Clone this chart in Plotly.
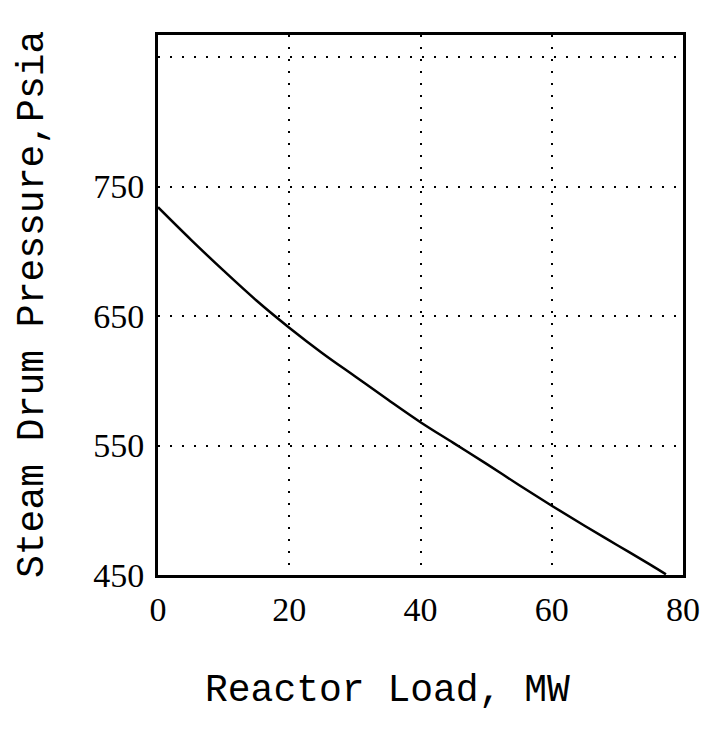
import plotly.graph_objects as go

# Data
load_mw = [0, 5, 10, 15, 20, 25, 30, 35, 40, 45, 50, 55, 60, 65, 70, 75, 77.4]
pressure_psia = [734, 709, 685, 662, 641, 621.5, 603.5, 585.5, 568, 552, 536, 519.5, 503.5, 488, 473, 458, 450.5]

x_tickvals = [0, 20, 40, 60, 80]
x_ticktext = ["0", "20", "40", "60", "80"]
y_tickvals = [450, 550, 650, 750, 850]
y_ticktext = ["450", "550", "650", "750", ""]

x_title = "Reactor Load, MW"
y_title = "Steam Drum Pressure,Psia"

fig = go.Figure()
fig.add_trace(go.Scatter(
    x=load_mw, y=pressure_psia, mode="lines",
    line=dict(color="black", width=2.5, shape="spline", smoothing=1.0),
    showlegend=False, hoverinfo="skip",
))

grid_dash = "2px,10px"
fig.update_xaxes(
    range=[0, 80], tickvals=x_tickvals, ticktext=x_ticktext,
    showgrid=True, gridcolor="black", gridwidth=2, griddash=grid_dash,
    showline=True, linecolor="black", linewidth=3, mirror=True,
    ticks="", zeroline=False, ticklabelstandoff=2,
    tickfont=dict(family="Liberation Serif", size=34, color="black"),
)
fig.update_yaxes(
    range=[450, 867], tickvals=y_tickvals, ticktext=y_ticktext,
    showgrid=True, gridcolor="black", gridwidth=2, griddash=grid_dash,
    showline=True, linecolor="black", linewidth=3, mirror=True,
    ticks="", zeroline=False, ticklabelstandoff=4,
    tickfont=dict(family="Liberation Serif", size=34, color="black"),
)

fig.update_layout(
    width=708, height=740,
    margin=dict(l=158, r=25, t=35, b=165, autoexpand=False),
    paper_bgcolor="white", plot_bgcolor="white",
    annotations=[
        dict(text=x_title, xref="paper", yref="paper", x=0.438, y=-0.213,
             showarrow=False, xanchor="center", yanchor="middle",
             font=dict(family="Liberation Mono", size=38, color="black")),
        dict(text=y_title, xref="paper", yref="paper", x=-0.24, y=0.5,
             showarrow=False, xanchor="center", yanchor="middle", textangle=-90,
             font=dict(family="Liberation Mono", size=38, color="black")),
    ],
)

fig.write_html("out.html")
